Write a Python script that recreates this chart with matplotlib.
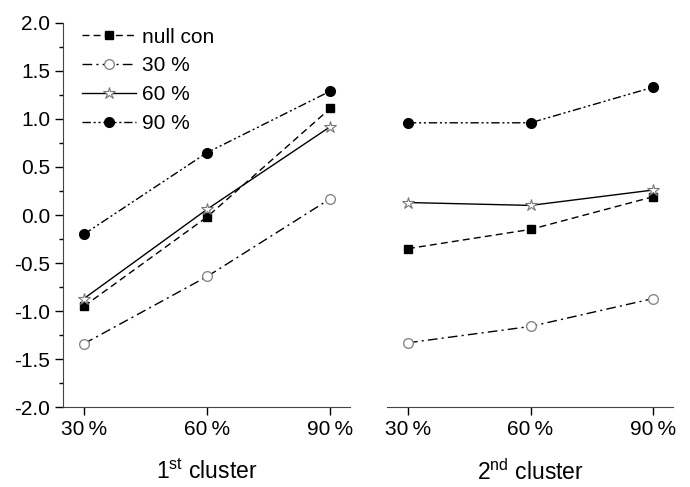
import matplotlib
matplotlib.use('Agg')
import matplotlib.pyplot as plt

plt.rcParams['font.family'] = ['Liberation Sans', 'DejaVu Sans']
plt.rcParams['mathtext.fontset'] = 'custom'
plt.rcParams['mathtext.rm'] = 'Liberation Sans'

# dados
niveis = ['30\u2009%', '60\u2009%', '90\u2009%']
series = ['null con', '30 %', '60 %', '90 %']
cluster1 = {
    'null con': [-0.95, -0.02, 1.11],
    '30 %': [-1.34, -0.64, 0.17],
    '60 %': [-0.87, 0.06, 0.92],
    '90 %': [-0.20, 0.65, 1.29],
}
cluster2 = {
    'null con': [-0.35, -0.15, 0.19],
    '30 %': [-1.33, -1.16, -0.87],
    '60 %': [0.13, 0.10, 0.26],
    '90 %': [0.96, 0.96, 1.33],
}

estilos = {
    'null con': dict(ls=(0, (5, 3)), marker='s', mfc='black', mec='black', ms=6),
    '30 %': dict(ls=(0, (7, 3, 1.5, 3)), marker='o', mfc='white', mec='#888888', ms=7),
    '60 %': dict(ls='-', marker='*', mfc='white', mec='#777777', ms=9, mew=0.8),
    '90 %': dict(ls=(0, (6, 2, 1.5, 2, 1.5, 2)), marker='o', mfc='black', mec='black', ms=7),
}

fig = plt.figure(figsize=(6.9, 4.87), dpi=100)
ax1 = fig.add_axes([0.0913, 0.164, 0.416, 0.789])
ax2 = fig.add_axes([0.561, 0.164, 0.414, 0.789])

x = range(len(niveis))
for ax, dados in [(ax1, cluster1), (ax2, cluster2)]:
    for s in series:
        ax.plot(x, dados[s], color='black', lw=1, label=s, **estilos[s])
    ax.set_xlim(-0.17, 2.16)
    ax.set_ylim(-2.0, 2.0)
    ax.set_xticks(list(x))
    ax.set_xticklabels(niveis, fontsize=15)
    ax.spines['top'].set_visible(False)
    ax.spines['right'].set_visible(False)
    ax.tick_params(axis='x', direction='out', length=6, width=1, pad=3)
    for sp in ax.spines.values():
        sp.set_color('#444444')

ax1.set_yticks([-2.0, -1.5, -1.0, -0.5, 0.0, 0.5, 1.0, 1.5, 2.0])
ax1.set_yticklabels(['%.1f' % v for v in ax1.get_yticks()], fontsize=15)
ax1.set_yticks([-1.75, -1.25, -0.75, -0.25, 0.25, 0.75, 1.25, 1.75], minor=True)
ax1.tick_params(axis='y', which='major', direction='out', length=6, width=1, pad=3)
ax1.tick_params(axis='y', which='minor', direction='out', length=3, width=1)

ax2.spines['left'].set_visible(False)
ax2.set_yticks([])

ax1.set_xlabel(r'1$^{\mathrm{st}}$ cluster', fontsize=16.5, labelpad=15)
ax2.set_xlabel(r'2$^{\mathrm{nd}}$ cluster', fontsize=16.5, labelpad=15)

ax1.legend(loc='upper left', frameon=False, fontsize=15, handlelength=2.6,
           handletextpad=0.3, labelspacing=0.47, borderaxespad=0.1,
           bbox_to_anchor=(0.03, 1.015))

plt.savefig('out.png', dpi=100)
